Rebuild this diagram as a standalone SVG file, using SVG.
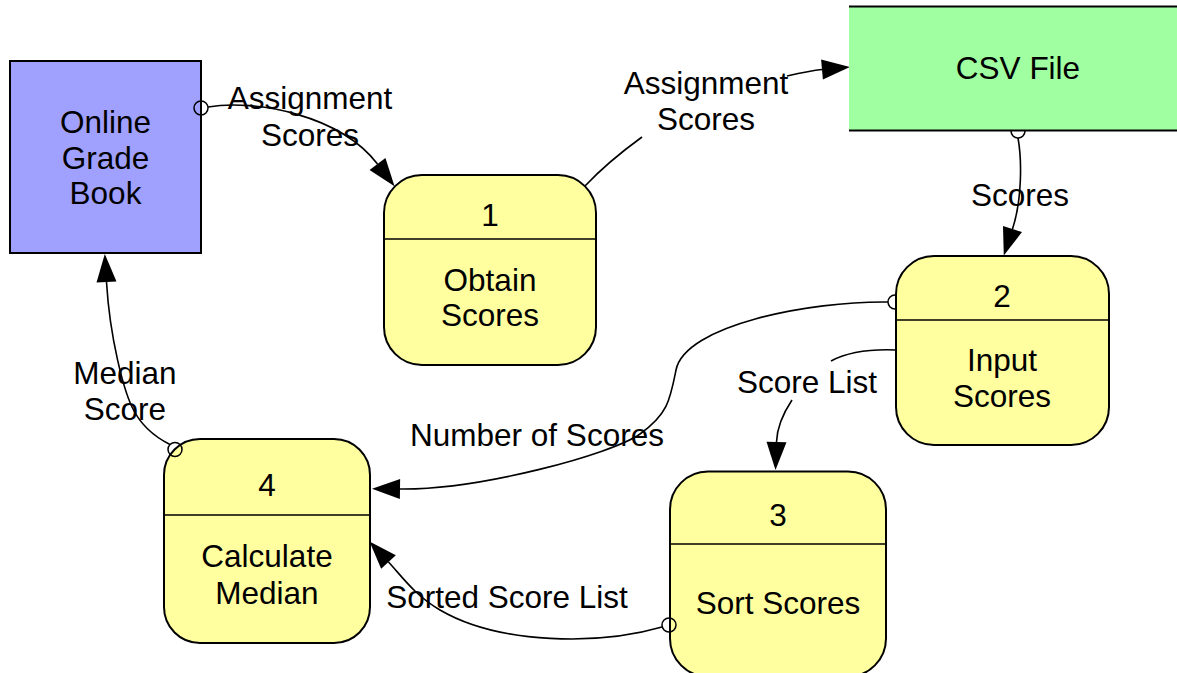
<svg xmlns="http://www.w3.org/2000/svg" width="1177" height="673" viewBox="0 0 1177 673">
  <defs>
    <marker id="arrow" markerUnits="userSpaceOnUse" markerWidth="30" markerHeight="21" refX="0" refY="10" orient="auto" overflow="visible">
      <path d="M0,0 L28,10 L0,20 z" fill="#000"/>
    </marker>
  </defs>
  <style>
    text { font-family: "Liberation Sans", Arial, Helvetica, sans-serif; font-size: 31.5px; fill: #000; text-anchor: middle; }
    .process { fill: #ffff9f; stroke: #000; stroke-width: 2; }
    .divider { stroke: #000; stroke-width: 1.6; }
    .entity { fill: #a0a0ff; stroke: #000; stroke-width: 2; }
    .store { fill: #a0ffa0; stroke: none; }
    .store-edge { stroke: #000; stroke-width: 2; }
    .flow { fill: none; stroke: #000; stroke-width: 1.6; }
    .arrowed { marker-end: url(#arrow); }
    .port { fill: none; stroke: #000; stroke-width: 1.5; }
  </style>

  <!-- data flows -->
  <g id="flows">
    <!-- Online Grade Book -> Obtain Scores -->
    <path class="flow arrowed" d="M208,107 C255,99 340,115 377.5,164"/>
    <!-- Obtain Scores -> CSV File (line broken by its label) -->
    <path class="flow" d="M585,186 C600,170 620,153 642,137"/>
    <path class="flow arrowed" d="M787,76 C800,73 811,70.5 822,69.5"/>
    <!-- CSV File -> Input Scores -->
    <path class="flow arrowed" d="M1018,138 C1022,160 1022,200 1012.5,229"/>
    <!-- Input Scores -> Calculate Median -->
    <path class="flow arrowed" d="M888,302 C810,301 685,325 676,370 C670,400 668,414 640,434 C612,454 480,490 400,489"/>
    <!-- Input Scores -> Sort Scores (line broken by its label) -->
    <path class="flow" d="M895.5,350 C870,349 848,352 831,361"/>
    <path class="flow arrowed" d="M792,400 C782,415 777,428 776.5,442"/>
    <!-- Sort Scores -> Calculate Median -->
    <path class="flow arrowed" d="M662,627 C600,645 500,645 440,610 C415,595.4 402,576.6 388.5,562"/>
    <!-- Calculate Median -> Online Grade Book -->
    <path class="flow arrowed" d="M170,444.5 C155,437 140,424 132,407 C124,390 110,340 106.5,282"/>

    <!-- source ports partly hidden under their nodes -->
    <circle class="port" cx="1018" cy="131" r="7"/>
    <circle class="port" cx="895" cy="302" r="7"/>
  </g>

  <!-- external entity -->
  <g id="online-grade-book">
    <rect class="entity" x="10" y="61" width="191" height="192"/>
    <text x="105.5" y="133">Online</text>
    <text x="105.5" y="169">Grade</text>
    <text x="105.5" y="204">Book</text>
  </g>

  <!-- data store -->
  <g id="csv-file">
    <rect class="store" x="849" y="6.5" width="340" height="124"/>
    <line class="store-edge" x1="849" y1="6.5" x2="1177" y2="6.5"/>
    <line class="store-edge" x1="849" y1="130.5" x2="1177" y2="130.5"/>
    <text x="1018" y="79">CSV File</text>
  </g>

  <!-- processes -->
  <g id="process-1">
    <rect class="process" x="384" y="175" width="212" height="190" rx="38" ry="38"/>
    <line class="divider" x1="383" y1="239" x2="597" y2="239"/>
    <text x="490" y="226">1</text>
    <text x="490" y="291">Obtain</text>
    <text x="490" y="326">Scores</text>
  </g>

  <g id="process-2">
    <rect class="process" x="896" y="256" width="213" height="189" rx="38" ry="38"/>
    <line class="divider" x1="895" y1="320" x2="1110" y2="320"/>
    <text x="1002" y="307">2</text>
    <text x="1002" y="371">Input</text>
    <text x="1002" y="407">Scores</text>
  </g>

  <g id="process-3">
    <rect class="process" x="670" y="471.5" width="216" height="205" rx="38" ry="38"/>
    <line class="divider" x1="669" y1="544" x2="887" y2="544"/>
    <text x="778" y="526">3</text>
    <text x="778" y="614">Sort Scores</text>
  </g>

  <g id="process-4">
    <rect class="process" x="164" y="439" width="206" height="204" rx="36" ry="36"/>
    <line class="divider" x1="163" y1="515" x2="371" y2="515"/>
    <text x="267" y="496">4</text>
    <text x="267" y="567">Calculate</text>
    <text x="267" y="604">Median</text>
  </g>

  <!-- source ports drawn over their nodes, and flow labels -->
  <g id="flow-labels">
    <circle class="port" cx="201" cy="108" r="7"/>
    <circle class="port" cx="669" cy="625" r="7"/>
    <circle class="port" cx="175" cy="449.5" r="7"/>

    <text x="310" y="109">Assignment</text>
    <text x="310" y="146">Scores</text>
    <text x="706" y="94">Assignment</text>
    <text x="706" y="130">Scores</text>
    <text x="1020" y="206">Scores</text>
    <text x="537" y="446">Number of Scores</text>
    <text x="807" y="393">Score List</text>
    <text x="507" y="608">Sorted Score List</text>
    <text x="125" y="384">Median</text>
    <text x="125" y="420">Score</text>
  </g>
</svg>
